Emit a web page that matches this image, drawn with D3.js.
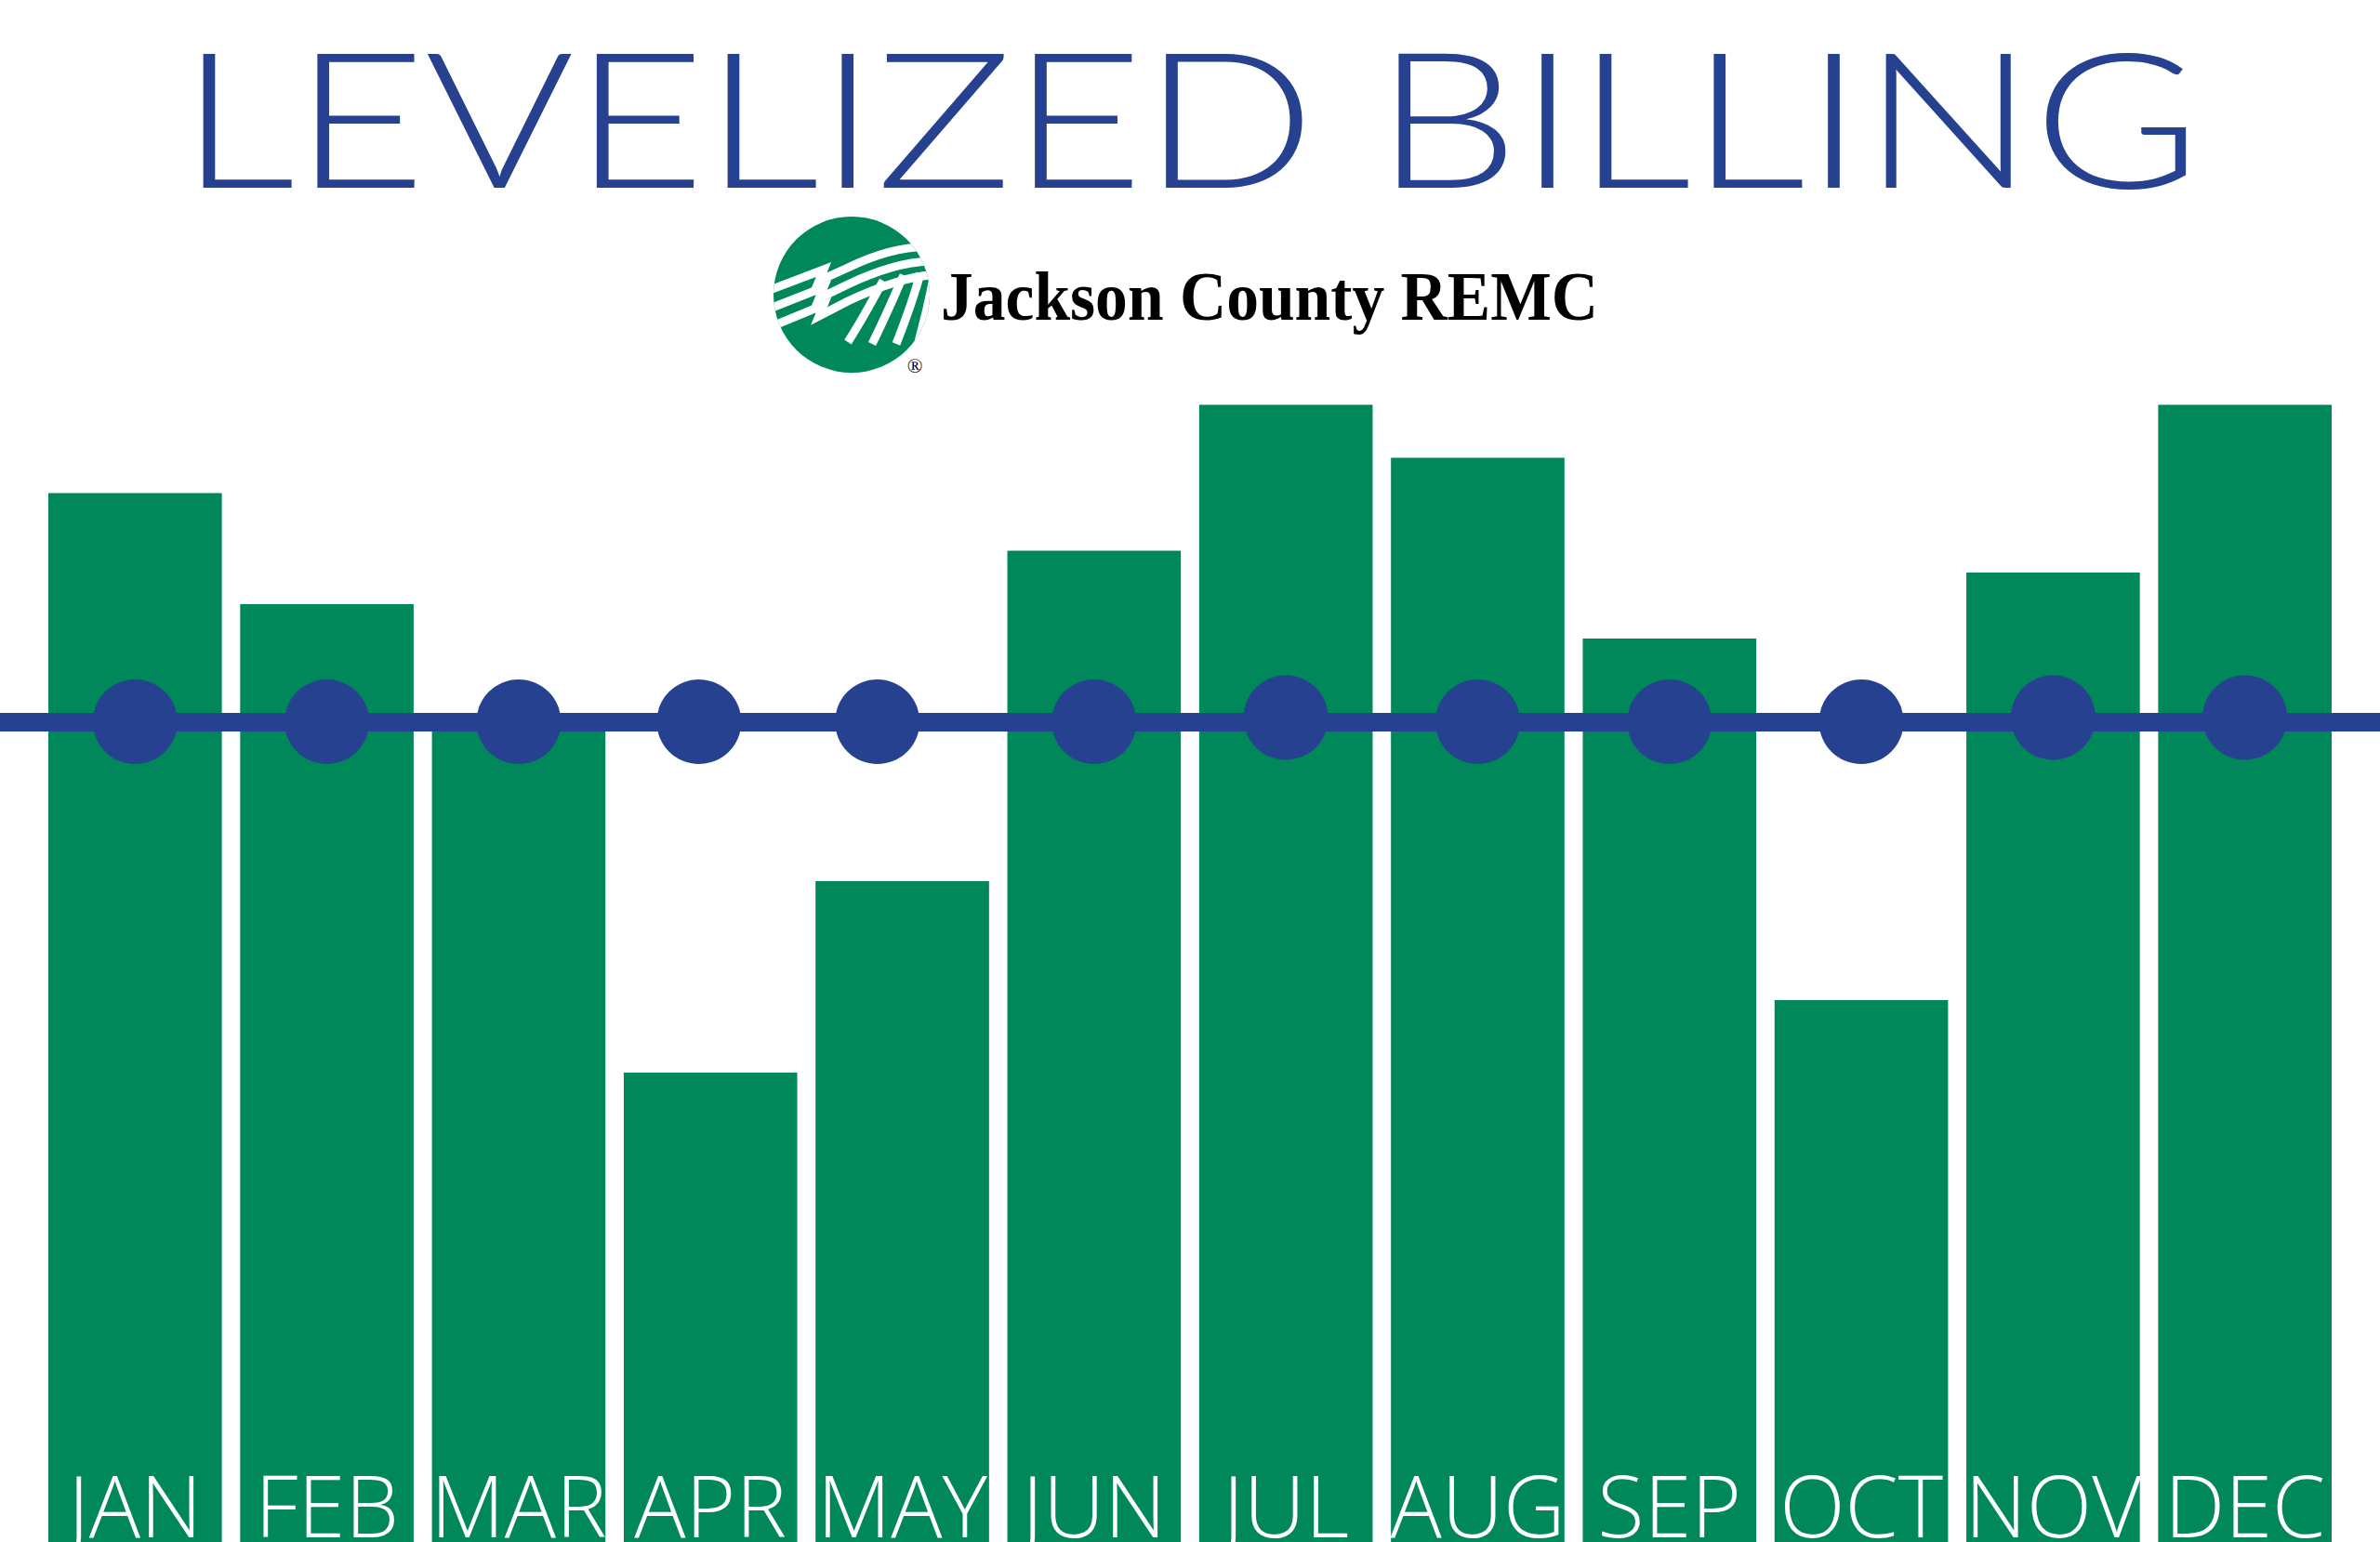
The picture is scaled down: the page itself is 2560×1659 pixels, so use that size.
<!DOCTYPE html>
<html><head><meta charset="utf-8">
<script src="https://cdn.jsdelivr.net/npm/d3@7"></script>
<style>html,body{margin:0;padding:0;background:#fff;} svg{display:block;}</style>
</head><body>
<svg id="chart" width="2560" height="1659"></svg>
<script>
// ---- data ----
const months = ["JAN","FEB","MAR","APR","MAY","JUN","JUL","AUG","SEP","OCT","NOV","DEC"];
const billAmounts = [225.7, 201.8, 175.4, 101.0, 142.2, 213.3, 244.7, 233.3, 194.4, 116.6, 208.6, 244.7];
const levelizedAmounts = [176.5, 176.5, 176.5, 176.5, 176.5, 176.5, 177.4, 176.5, 176.5, 176.5, 177.4, 177.4];
const levelizedMonthPos = [0, 1, 2, 2.94, 3.87, 5, 6, 7, 8, 9, 10, 11];
const levelizedLine = 176.4;
const titleText = "LEVELIZED BILLING";
const orgName = "Jackson County REMC";

// ---- style ----
const GREEN = "#00875A";
const BLUE = "#26418F";
const W = 2560, H = 1659;

const svg = d3.select("#chart");

const x = d3.scaleBand().domain(months).range([52, 2508]).paddingInner(0.0955).paddingOuter(0);
const y = d3.scaleLinear().domain([0, 250]).range([H, 409]);
const xDot = d3.scaleLinear().domain([0, 11])
  .range([x(months[0]) + x.bandwidth()/2, x(months[11]) + x.bandwidth()/2]);

// Title
svg.append("g").attr("transform", "translate(193,202) scale(1.21,1)")
  .append("text")
  .attr("x", 0).attr("y", 0)
  .attr("textLength", 1797).attr("lengthAdjust", "spacing")
  .style("font-family", "Lato, 'Open Sans', sans-serif")
  .style("font-weight", 300)
  .style("font-size", "203px")
  .attr("fill", BLUE)
  .text(titleText);

// Logo
const logo = svg.append("g");
const cx = 916, cy = 317, r = 84;
const defs = svg.append("defs");
defs.append("clipPath").attr("id", "logoClip")
  .append("circle").attr("cx", cx).attr("cy", cy).attr("r", r);
logo.append("circle").attr("cx", cx).attr("cy", cy).attr("r", r).attr("fill", GREEN);
const lg = logo.append("g").attr("clip-path", "url(#logoClip)")
  .attr("fill", "none").attr("stroke", "#fff").attr("stroke-linejoin", "miter");
const stripes = [
  "M828,312 L886,290 L881,302 L912,288 C945,272 975,264 1004,266",
  "M828,332 L886,309 L881,321 L912,306 C948,289 980,281 1004,281",
  "M828,352 L886,328 L881,340 L912,324 C950,306 985,296 1004,296"
];
stripes.forEach(d => lg.append("path").attr("d", d).attr("stroke-width", 9));
const furrows = [
  "M950,302 C940,320 930,340 912,368",
  "M972,296 C962,318 952,342 938,370",
  "M990,294 C984,316 975,342 964,370",
  "M1004,300 C1000,320 995,342 988,368"
];
furrows.forEach(d => lg.append("path").attr("d", d).attr("stroke-width", 9));
logo.append("text").attr("x", 984).attr("y", 401).attr("text-anchor", "middle")
  .style("font-family", "'Liberation Serif', serif").style("font-size", "22px")
  .attr("fill", "#000").text("®");
logo.append("text").attr("x", 1012).attr("y", 344)
  .attr("textLength", 707).attr("lengthAdjust", "spacingAndGlyphs")
  .style("font-family", "'Liberation Serif', 'Times New Roman', serif")
  .style("font-weight", 700).style("font-size", "75px")
  .attr("fill", "#000").text(orgName);

// Bars
svg.append("g").selectAll("rect").data(months).join("rect")
  .attr("x", d => x(d))
  .attr("y", (d, i) => y(billAmounts[i]))
  .attr("width", x.bandwidth())
  .attr("height", (d, i) => y(0) - y(billAmounts[i]))
  .attr("fill", GREEN);

// Levelized line
const line = d3.line().x(d => d[0]).y(d => y(d[1]));
svg.append("path")
  .attr("d", line([[0, levelizedLine], [W, levelizedLine]]))
  .attr("stroke", BLUE).attr("stroke-width", 20).attr("fill", "none");

// Dots
svg.append("g").selectAll("circle").data(levelizedAmounts).join("circle")
  .attr("cx", (d, i) => xDot(levelizedMonthPos[i]))
  .attr("cy", d => y(d))
  .attr("r", 45.5)
  .attr("fill", BLUE);

// Month labels
svg.append("g").selectAll("text").data(months).join("text")
  .attr("x", d => x(d) + x.bandwidth()/2)
  .attr("y", 1654)
  .attr("text-anchor", "middle")
  .style("font-family", "'Open Sans', sans-serif")
  .style("font-weight", 300)
  .style("font-size", "92px")
  .attr("fill", "#fff")
  .text(d => d);
</script>
</body></html>
